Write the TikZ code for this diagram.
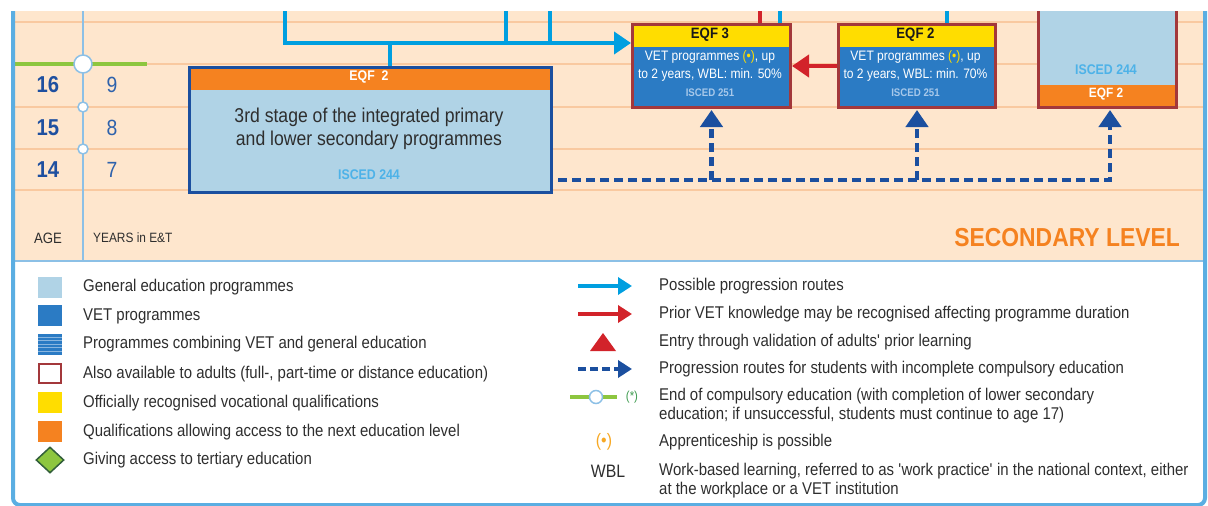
\documentclass[tikz,border=0pt]{standalone}
\usepackage{fontspec}
\setmainfont{Liberation Sans}[FakeStretch=0.88]
\usetikzlibrary{arrows.meta,positioning,shapes.geometric}
\definecolor{bgorange}{HTML}{FEE6CD}
\definecolor{rowline}{HTML}{F9C9A0}
\definecolor{frameblue}{HTML}{5BAEE2}
\definecolor{divblue}{HTML}{8CC0E6}
\definecolor{cyanroute}{HTML}{009FE0}
\definecolor{redroute}{HTML}{D2232A}
\definecolor{darkred}{HTML}{A3383B}
\definecolor{navy}{HTML}{1B4F9F}
\definecolor{genblue}{HTML}{B0D3E6}
\definecolor{vetblue}{HTML}{2B7BC4}
\definecolor{eqfyellow}{HTML}{FFDD00}
\definecolor{eqforange}{HTML}{F58220}
\definecolor{acgreen}{HTML}{8DC63F}
\definecolor{txtgrey}{HTML}{2E2E2E}
\definecolor{iscedlight}{HTML}{4DB2E8}
\definecolor{iscedpale}{HTML}{A6C8EA}
\definecolor{agenum}{HTML}{1F50A0}
\definecolor{yrnum}{HTML}{2E62AC}
\definecolor{apporange}{HTML}{F7A823}
\definecolor{stargreen}{HTML}{3E9B4F}
\newcommand{\fsz}[2]{\fontsize{#1}{#2}\selectfont}
\tikzset{
  lbl/.style={inner sep=0pt, text=txtgrey, font=\fsz{17}{19}, anchor=west, align=left},
  route/.style={cyanroute, line width=4pt},
  redway/.style={redroute, line width=4pt},
  dashway/.style={navy, line width=4.5pt, dash pattern=on 9pt off 5pt},
  bigtip/.style={-{Triangle[length=17pt,width=22pt]}},
  smalltip/.style={-{Triangle[length=14pt,width=17pt]}},
  endmark/.style={circle, draw=divblue, fill=white, line width=1.5pt, inner sep=0pt},
  box/.style={line width=3pt, inner sep=0pt, anchor=north west},
  head/.style={path picture={\fill[#1] (path picture bounding box.north west) rectangle ([yshift=-22pt]path picture bounding box.north east);}},
  foot/.style={path picture={\fill[#1] (path picture bounding box.south west) rectangle ([yshift=23pt]path picture bounding box.south east);}},
  swatch/.style={minimum width=24pt, minimum height=21pt, inner sep=0pt},
  stripes/.style={path picture={\foreach \k in {1,...,5}
    \draw[white!45!vetblue,line width=0.9pt] ([yshift=\k*3.5pt]path picture bounding box.south west) -- ([yshift=\k*3.5pt]path picture bounding box.south east);}},
  hdtxt/.style={inner sep=0pt, font=\fsz{14}{16}\bfseries},
  vettxt/.style={inner sep=0pt, text=white, font=\fsz{13.7}{18}, align=center},
  isced/.style={inner sep=0pt, font=\fsz{11}{13}\bfseries, text=iscedpale}
}
\begin{document}
\begin{tikzpicture}[x=1pt,y=-1pt]
\useasboundingbox (0,0) rectangle (1208,506);
\fill[bgorange] (13,11) rectangle (1205,261);
\foreach \y in {22,64,107,149,190}
  \draw[rowline,line width=1.3pt] (13,\y) -- (1205,\y);
\draw[divblue,line width=2pt] (83,11) -- (83,261);
\draw[acgreen,line width=4.5pt] (14,64) -- (147,64);
\node[endmark,minimum size=18pt] (end9) at (83,64) {};
\node[endmark,minimum size=10pt] (end8) at (83,107) {};
\node[endmark,minimum size=10pt] (end7) at (83,149) {};
\foreach \a/\n/\y in {16/9/85,15/8/128,14/7/170}{
  \node[inner sep=0pt,text=agenum,font=\fsz{23}{26}\bfseries] (age\a) at (48,\y) {\a};
  \node[inner sep=0pt,text=yrnum,font=\fsz{22}{26}] (yr\n) at (112,\y) {\n};
}
\node[inner sep=0pt,text=txtgrey,font=\fsz{15}{18}] (agehd) at (48,238) {AGE};
\node[inner sep=0pt,text=txtgrey,font=\fsz{13.5}{16},anchor=west] (yrhd) at (93,238) {YEARS in E\&T};
\node[inner sep=0pt,text=eqforange,font=\fsz{26}{30}\bfseries,anchor=east] (level) at (1180,238) {SECONDARY LEVEL};

\begin{scope}
\clip (13,11) rectangle (1205,261);
\node[box,draw=navy,fill=genblue,head=eqforange,minimum width=362pt,minimum height=125pt] (lowsec) at (188,66) {};
\node[box,draw=darkred,fill=vetblue,head=eqfyellow,minimum width=158pt,minimum height=83pt] (eqf3) at (631,23) {};
\node[box,draw=darkred,fill=vetblue,head=eqfyellow,minimum width=157pt,minimum height=83pt] (eqf2v) at (837,23) {};
\node[box,draw=darkred,fill=genblue,foot=eqforange,minimum width=138pt,minimum height=110pt] (adult) at (1037,-4) {};

\coordinate (in1) at (285,0);
\coordinate (in2) at (506,0);
\coordinate (in3) at (550,0);
\coordinate (in4) at (760,0);
\coordinate (in5) at (780,0);
\coordinate (in6) at (947,0);
\coordinate (jn) at (390,43);
\draw[route,bigtip] (in1) |- (eqf3.west |- jn);
\draw[route] (in2) -- (in2 |- jn);
\draw[route] (in3) -- (in3 |- jn);
\draw[route] (jn) -- (jn |- lowsec.north);
\draw[redway] (in4) -- (in4 |- eqf3.north);
\draw[route] (in5) -- (in5 |- eqf3.north);
\draw[route] (in6) -- (in6 |- eqf2v.north);
\draw[redway,bigtip] (eqf2v.west) -- (eqf3.east);

\coordinate (dcorner) at (1110,180);
\draw[dashway,bigtip,shorten <=5pt,shorten >=1pt] (lowsec.east |- dcorner) -- (dcorner) -- (dcorner |- adult.south);
\draw[dashway,bigtip,shorten >=1pt] (eqf3.south |- dcorner) -- (eqf3.south);
\draw[dashway,bigtip,shorten >=1pt] (eqf2v.south |- dcorner) -- (eqf2v.south);

\node[hdtxt,text=white] (lowsechd) at (369,77) {EQF\ \ 2};
\node[inner sep=0pt,text=txtgrey,font=\fsz{20}{23},align=center] (lowsectxt) at (369,128.5) {3rd stage of the integrated primary\\and lower secondary programmes};
\node[hdtxt,text=iscedlight] (lowsecisc) at (369,175) {ISCED 244};

\node[hdtxt,text=black!90,font=\fsz{15}{17}\bfseries] (eqf3hd) at (710,34.5) {EQF 3};
\node[vettxt] (eqf3txt) at (710,66) {VET programmes \textcolor{eqfyellow}{(•)}, up\\to 2 years, WBL: min. 50\%};
\node[isced] (eqf3isc) at (710,93) {ISCED 251};

\node[hdtxt,text=black!90,font=\fsz{15}{17}\bfseries] (eqf2hd) at (915.5,34.5) {EQF 2};
\node[vettxt] (eqf2txt) at (915.5,66) {VET programmes \textcolor{eqfyellow}{(•)}, up\\to 2 years, WBL: min. 70\%};
\node[isced] (eqf2isc) at (915.5,93) {ISCED 251};

\node[hdtxt,text=iscedlight] (adultisc) at (1106,70) {ISCED 244};
\node[hdtxt,text=white,font=\fsz{13.5}{16}\bfseries] (adulthd) at (1106,94) {EQF 2};
\end{scope}

\draw[divblue,line width=2.5pt] (13,261) -- (1205,261);
\draw[frameblue,line width=4pt,rounded corners=7pt] (13,11) -- (13,505) -- (1205,505) -- (1205,11);

\node[swatch,fill=genblue] (swgen) at (50,287) {};
\node[swatch,fill=vetblue] (swvet) at (50,315) {};
\node[swatch,fill=vetblue,stripes] (swcomb) at (50,344) {};
\node[swatch,fill=white,draw=darkred,line width=2pt,minimum width=22pt,minimum height=19pt] (swadult) at (50,373) {};
\node[swatch,fill=eqfyellow] (swvoc) at (50,402) {};
\node[swatch,fill=eqforange] (swnext) at (50,431) {};
\node[diamond,aspect=1.1,fill=acgreen,draw=black!30!stargreen!70!darkgray,line width=1.5pt,minimum width=28pt,minimum height=26pt,inner sep=0pt] (swtert) at (50,460) {};
\foreach \t/\y [count=\i] in {General education programmes/287, VET programmes/316,
    Programmes combining VET and general education/344,
    {Also available to adults (full-, part-time or distance education)}/374,
    Officially recognised vocational qualifications/403,
    Qualifications allowing access to the next education level/432,
    Giving access to tertiary education/460}
  \node[lbl] (key\i) at (83,\y) {\t};

\coordinate (kr1a) at (578,286);
\coordinate (kr1b) at (632,286);
\coordinate (kr2a) at (578,314);
\coordinate (kr2b) at (632,314);
\coordinate (kr4a) at (578,369);
\coordinate (kr4b) at (632,369);
\draw[route,smalltip] (kr1a) -- (kr1b);
\draw[redway,smalltip] (kr2a) -- (kr2b);
\fill[redroute] (590,351) -- (616,351) -- (603,333) -- cycle;
\draw[dashway,dash pattern=on 8pt off 4pt,smalltip] (kr4a) -- (kr4b);
\draw[acgreen,line width=4.5pt] (570,397) -- (617,397);
\node[endmark,minimum size=13pt] (kend) at (596,397) {};
\node[inner sep=0pt,text=stargreen,font=\fsz{13}{15}] (kstar) at (632,397) {(*)};
\node[inner sep=0pt,text=apporange,font=\fsz{18}{20}] (kapp) at (604,442) {(•)};
\node[inner sep=0pt,text=txtgrey,font=\fsz{18}{20}] (kwbl) at (608,471) {WBL};
\foreach \t/\y [count=\i] in {Possible progression routes/286,
    Prior VET knowledge may be recognised affecting programme duration/314,
    Entry through validation of adults\textquotesingle\ prior learning/342,
    Progression routes for students with incomplete compulsory education/369,
    {End of compulsory education (with completion of lower secondary\\education; if unsuccessful, students must continue to age 17)}/406,
    Apprenticeship is possible/442,
    {Work-based learning, referred to as \textquotesingle work practice\textquotesingle\ in the national context, either\\at the workplace or a VET institution}/481}
  \node[lbl] (leg\i) at (659,\y) {\t};
\end{tikzpicture}
\end{document}
